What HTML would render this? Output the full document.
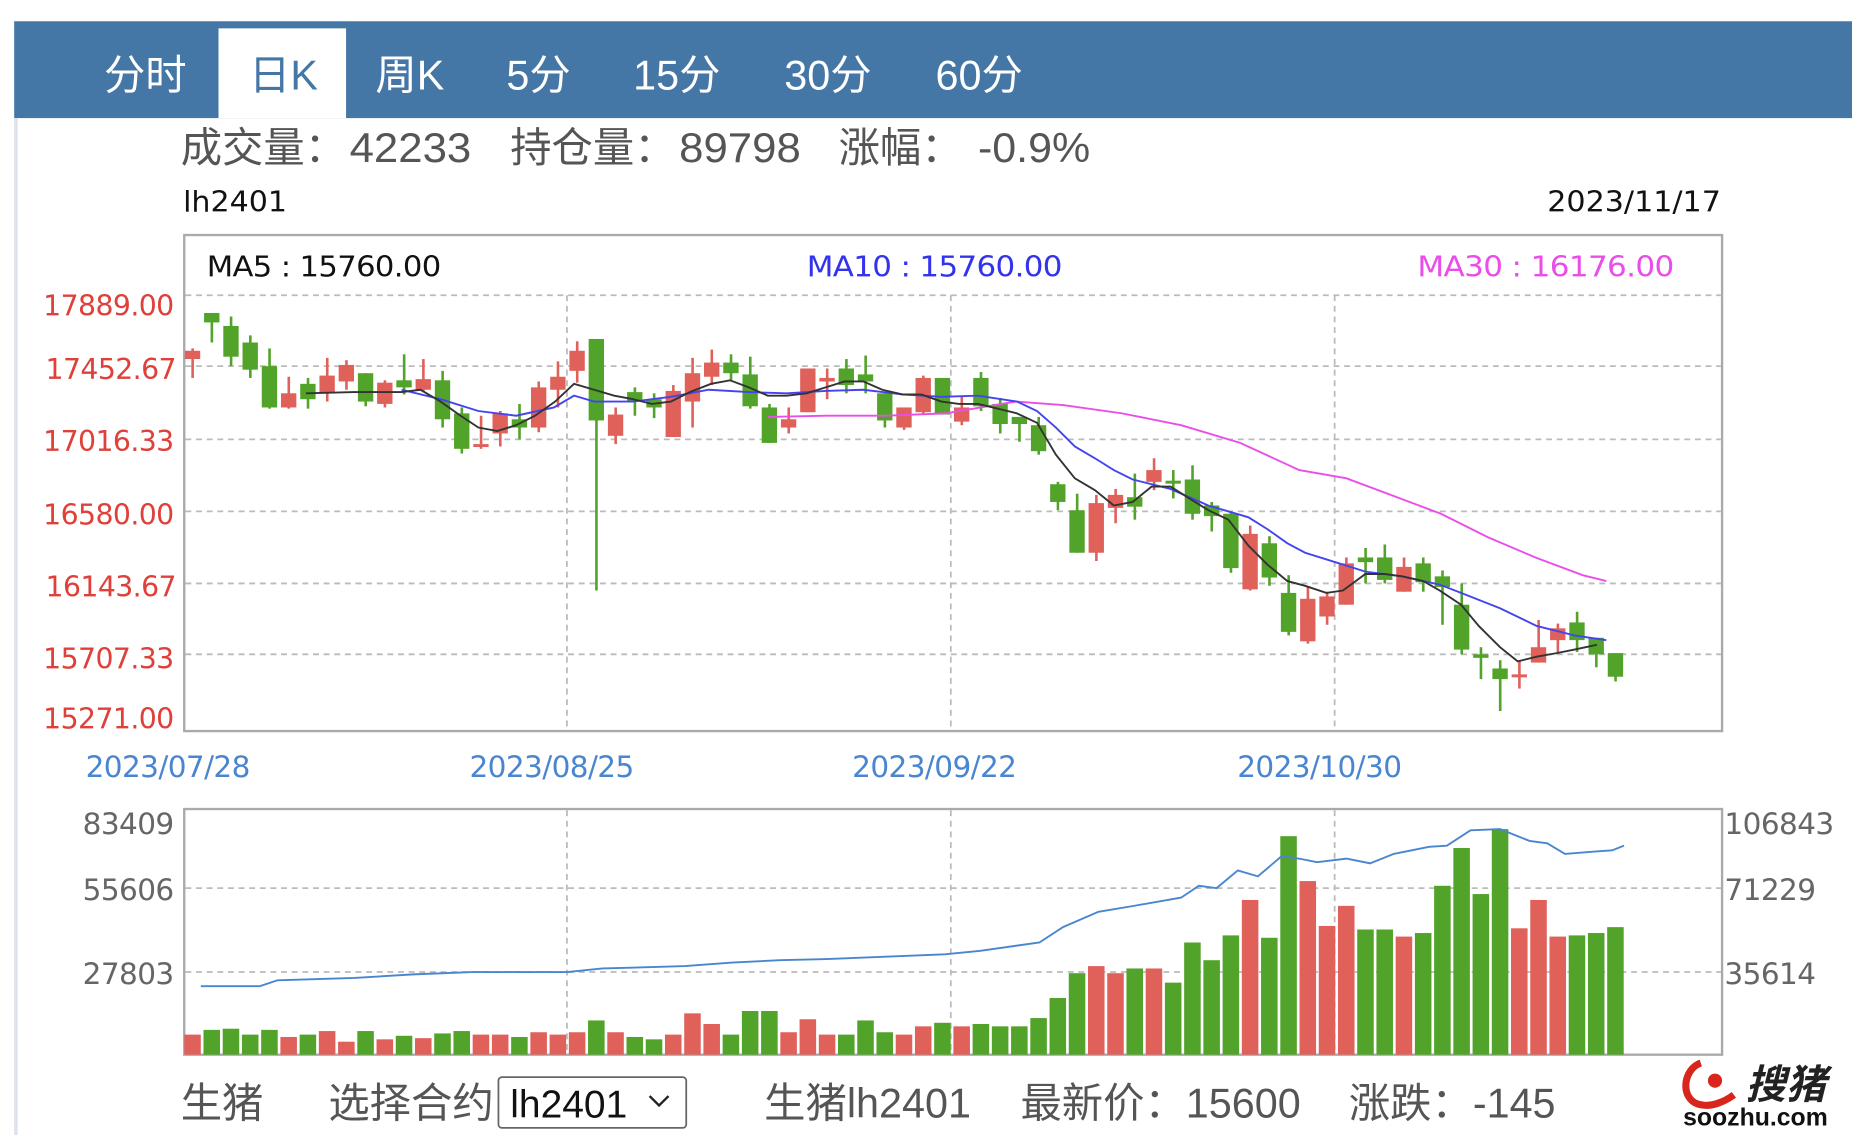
<!DOCTYPE html>
<html><head><meta charset="utf-8"><style>
html,body{margin:0;padding:0;background:#fff;width:1852px;height:1135px;overflow:hidden}
svg{display:block}
.cn{font-family:"Liberation Sans","Noto Sans CJK SC",sans-serif}
.dv{font-family:"DejaVu Sans","Liberation Sans",sans-serif}
</style></head><body>
<svg id="s" width="1852" height="1135" viewBox="0 0 1568 961" preserveAspectRatio="none" xmlns="http://www.w3.org/2000/svg">
<rect x="12" y="18" width="1556" height="82" fill="#4476a6"/>
<rect x="185" y="24" width="108" height="76" fill="#fff"/>
<rect x="12" y="100" width="3" height="861" fill="#dde3ec"/>
<g class="cn" font-size="35" fill="#fff" text-anchor="middle">
<text x="123" y="76">分时</text><text x="240" y="76" fill="#4476a6">日K</text><text x="347" y="76">周K</text>
<text x="456" y="76">5分</text><text x="573" y="76">15分</text><text x="701" y="76">30分</text><text x="829" y="76">60分</text></g>
<g class="cn" font-size="35" fill="#555">
<text x="153" y="137">成交量：</text><text x="296" y="137" textLength="103" lengthAdjust="spacingAndGlyphs">42233</text>
<text x="432" y="137">持仓量：</text><text x="575" y="137" textLength="103" lengthAdjust="spacingAndGlyphs">89798</text>
<text x="710" y="137">涨幅：</text><text x="828" y="137" textLength="95" lengthAdjust="spacingAndGlyphs">-0.9%</text></g>
<text class="dv" x="155" y="179" font-size="24" fill="#111" textLength="88" lengthAdjust="spacingAndGlyphs">lh2401</text>
<text class="dv" x="1310" y="179" font-size="24" fill="#111" textLength="147" lengthAdjust="spacingAndGlyphs">2023/11/17</text>
<rect x="156" y="199" width="1302" height="420" fill="none" stroke="#aaa" stroke-width="2"/>
<g class="dv" font-size="24" letter-spacing="-0.5">
<text x="175" y="234" fill="#111" textLength="198" lengthAdjust="spacingAndGlyphs">MA5 : 15760.00</text>
<text x="683" y="234" fill="#3333ee" textLength="216" lengthAdjust="spacingAndGlyphs">MA10 : 15760.00</text>
<text x="1200" y="234" fill="#e94ee9" textLength="217" lengthAdjust="spacingAndGlyphs">MA30 : 16176.00</text></g>
<g stroke="#bbb" stroke-width="1.5" stroke-dasharray="5,4" fill="none">
<path d="M157 250H1457M157 310H1457M157 372H1457M157 433H1457M157 494H1457M157 554H1457"/>
<path d="M480 250V618M805 250V618M1130 250V618"/>
<path d="M157 752H1457M157 823H1457M480 686V892M805 686V892M1130 686V892"/>
</g>
<g class="dv" font-size="24" fill="#e0403a" text-anchor="end" letter-spacing="-0.5">
<text x="147" y="267">17889.00</text><text x="149" y="321">17452.67</text><text x="147" y="382">17016.33</text>
<text x="147" y="444">16580.00</text><text x="149" y="505">16143.67</text><text x="147" y="566">15707.33</text><text x="147" y="617">15271.00</text></g>
<g class="dv" font-size="25" fill="#4a86d0" text-anchor="middle" letter-spacing="-0.5">
<text x="142" y="658">2023/07/28</text><text x="467" y="658">2023/08/25</text><text x="791" y="658">2023/09/22</text><text x="1117" y="658">2023/10/30</text></g>
<rect x="156" y="685" width="1302" height="208" fill="none" stroke="#aaa" stroke-width="2"/>
<g class="dv" font-size="25" fill="#666" letter-spacing="-0.5">
<text x="147" y="706" text-anchor="end">83409</text><text x="147" y="762" text-anchor="end">55606</text><text x="147" y="833" text-anchor="end">27803</text>
<text x="1460" y="706">106843</text><text x="1460" y="762">71229</text><text x="1460" y="833">35614</text></g>
<g id="c"></g>
<polyline fill="none" stroke="#e94ee9" stroke-width="1.6" points="650,353 700,352 750,352 800,350 860,340 900,343 950,350 1000,360 1050,375 1100,398 1140,405 1180,420 1220,435 1260,455 1300,472 1340,487 1360,492"/>
<polyline fill="none" stroke="#4444ee" stroke-width="1.6" points="340,330 373,338 405,348 437,352 469,345 486,335 503,340 536,340 568,336 600,330 634,332 666,333 699,331 731,330 764,334 797,336 828,335 861,340 878,348 894,362 910,378 927,388 943,398 959,406 991,414 1023,428 1057,438 1073,448 1090,460 1105,468 1137,478 1156,484 1187,488 1219,495 1237,502 1270,515 1301,530 1333,538 1360,542"/>
<polyline fill="none" stroke="#333" stroke-width="1.6" points="259,333 300,332 340,332 356,330 373,340 390,352 405,362 421,365 437,360 453,352 470,340 486,325 503,330 520,335 536,338 552,342 568,340 584,332 602,325 618,322 634,328 650,335 666,335 683,333 699,328 715,323 731,323 747,330 764,334 780,334 797,340 812,342 828,342 845,346 861,350 878,358 894,385 910,405 927,415 943,428 959,425 975,412 991,412 1007,422 1023,432 1040,440 1057,462 1073,478 1090,492 1105,496 1123,502 1137,500 1156,486 1172,486 1187,488 1205,492 1219,500 1237,512 1252,530 1270,548 1285,560 1301,556 1318,553 1333,550 1352,546"/>
<polyline fill="none" stroke="#4a86d0" stroke-width="1.6" points="170,835 220,835 235,830 300,828 350,825 400,823 480,823 510,820 580,818 620,815 660,813 700,812 750,810 800,808 830,805 880,798 900,785 930,772 960,767 1000,760 1015,750 1030,752 1048,737 1065,742 1085,725 1100,727 1115,730 1140,727 1160,731 1180,723 1210,717 1225,716 1245,703 1270,702 1295,712 1310,714 1325,723 1350,721 1365,720 1375,716"/>
<g class="cn" font-size="35" fill="#555">
<text x="153" y="946">生猪</text><text x="278" y="946">选择合约</text>
<text x="647" y="946">生猪lh2401</text><text x="864" y="946">最新价：15600</text><text x="1142" y="946">涨跌：-145</text></g>
<rect x="422" y="912" width="159" height="43" rx="3" fill="#fff" stroke="#666" stroke-width="1.5"/>
<text x="432" y="946" font-family="Liberation Sans" font-size="33" fill="#111">lh2401</text>
<path d="M550 928l8 8 8-8" fill="none" stroke="#222" stroke-width="2"/>
<path d="M1440 900c-15 5-18 30-2 35 10 3 22-2 30-8" fill="none" stroke="#d8261c" stroke-width="6"/>
<circle cx="1452" cy="915" r="6" fill="#d8261c"/>
<text class="cn" x="1478" y="930" font-size="34" font-weight="bold" fill="#222" font-style="italic">搜猪</text>
<text x="1425" y="953" font-family="Liberation Sans" font-size="21" font-weight="bold" fill="#111">soozhu.com</text>
</svg>
<script>
var D=[[295,297,304,320,1],[265,265,273,290,0],[268,276,302,310,0],[284,290,313,320,0],[295,310,345,346,0],[319,333,345,346,1],[320,325,338,346,0],[303,318,333,340,1],[305,309,323,330,1],[316,316,340,344,0],[322,324,342,345,1],[300,322,328,334,0],[304,321,330,332,1],[314,322,355,362,0],[345,350,380,384,0],[352,376,378,380,1],[348,350,367,378,1],[342,355,362,372,0],[323,328,362,366,1],[306,319,330,345,1],[289,297,314,324,1],[287,287,356,500,0],[345,351,369,376,1],[328,332,340,352,0],[333,338,345,354,0],[326,331,370,370,1],[303,316,340,362,1],[296,307,319,326,1],[300,307,316,322,0],[302,317,344,346,0],[342,345,375,375,0],[345,355,362,367,1],[312,312,349,349,1],[312,320,323,338,1],[304,312,326,333,0],[301,317,323,333,0],[333,333,356,362,0],[345,345,362,364,1],[318,320,349,351,1],[320,320,351,351,0],[335,345,357,360,1],[315,320,344,348,0],[337,342,359,367,0],[353,353,359,374,0],[353,360,382,385,0],[408,410,425,432,0],[418,432,468,468,0],[419,426,468,475,1],[414,419,430,443,1],[401,421,429,440,0],[388,398,408,415,1],[398,407,409,422,0],[394,406,435,440,0],[425,428,437,450,0],[433,435,481,485,0],[445,452,499,500,1],[454,460,489,496,0],[487,502,535,538,0],[497,507,543,545,1],[501,505,522,529,1],[472,477,512,512,1],[464,472,476,494,0],[461,472,491,494,0],[472,480,501,501,1],[472,477,493,501,0],[483,488,497,529,0],[494,512,550,554,0],[548,554,557,575,0],[559,566,575,602,0],[559,571,573,583,1],[525,548,561,561,1],[528,532,542,553,1],[518,527,542,552,0],[540,540,554,565,0],[553,553,573,577,0]];
var V=[876,872,871,876,872,878,876,873,882,873,880,877,879,875,873,876,876,878,874,876,874,864,874,878,880,876,858,867,876,856,856,874,863,876,876,864,874,876,869,866,869,867,869,869,862,845,824,818,824,820,820,832,798,813,792,762,794,708,746,784,767,787,787,793,790,750,718,757,702,786,762,793,792,790,785];
var s='';for(var i=0;i<D.length;i++){var d=D[i],x=163+i*16.28,c=d[4]?'#e0605a':'#52a329';
s+='<rect x="'+(x-1)+'" y="'+d[0]+'" width="2.2" height="'+(d[3]-d[0])+'" fill="'+c+'"/>';
s+='<rect x="'+(x-6.5)+'" y="'+d[1]+'" width="13" height="'+Math.max(d[2]-d[1],2.5)+'" fill="'+c+'"/>';
s+='<rect x="'+(x-7)+'" y="'+V[i]+'" width="14" height="'+(893-V[i])+'" fill="'+c+'"/>';}
document.getElementById('c').innerHTML=s;
</script>
</body></html>
